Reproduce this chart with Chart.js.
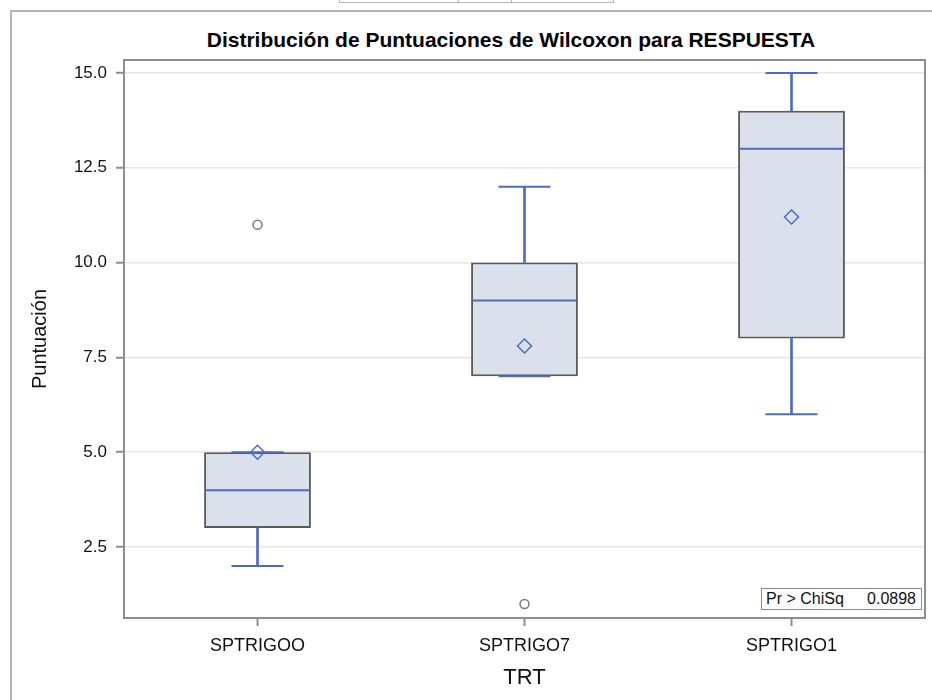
<!DOCTYPE html>
<html>
<head>
<meta charset="utf-8">
<script src="https://cdn.jsdelivr.net/npm/chart.js@4"></script>
<style>
  html, body { margin: 0; padding: 0; background: #fff; overflow: hidden; }
  #wrap { position: relative; width: 932px; height: 700px; }
  #frame { position: absolute; left: 10px; top: 10px; right: 0; bottom: 0;
           border-left: 2px solid #b4b4b4; border-top: 2px solid #b4b4b4; }
  #topbox { position: absolute; left: 339px; top: -2px; width: 273px; height: 3px;
            border: 1px solid #b4b4b4; }
  #topbox span { position: absolute; top: 0; height: 3px; border-left: 1px solid #b4b4b4; }
  #title { position: absolute; left: 0; top: 27px; width: 1022px; text-align: center;
           font: bold 21px "Liberation Sans", Arial, sans-serif; line-height: 26px; color: #000; }
  #inset { position: absolute; left: 761px; top: 588px; width: 159px; height: 20px;
           border: 1px solid #8a8a8a; background: #fff;
           font: 16px "Liberation Sans", Arial, sans-serif; line-height: 20px; color: #111; }
  #inset .k { position: absolute; left: 4px; }
  #inset .v { position: absolute; right: 5px; }
  canvas { position: absolute; left: 0; top: 0; }
</style>
</head>
<body>
<div id="wrap">
  <div id="frame"></div>
  <div id="topbox"><span style="left:118px"></span><span style="left:171px"></span></div>
  <div id="title">Distribución de Puntuaciones de Wilcoxon para RESPUESTA</div>
  <canvas id="chart" width="932" height="700"></canvas>
  <div id="inset"><span class="k">Pr &gt; ChiSq</span><span class="v">0.0898</span></div>
</div>
<script>
// datos
const categories = ["SPTRIGOO", "SPTRIGO7", "SPTRIGO1"];
const q1 = [3, 7, 8];
const median = [4, 9, 13];
const q3 = [5, 10, 14];
const whiskerLow = [2, 7, 6];
const whiskerHigh = [5, 12, 15];
const means = [5, 7.8, 11.2];
const outliers = [11, 1, null];
const yTicks = [2.5, 5, 7.5, 10, 12.5, 15];

const blue = "#4b6cc2";
const axisGray = "#8e8e8e";
const fontFamily = '"Liberation Sans", Arial, sans-serif';

const boxData = categories.map((c, i) => [q1[i], q3[i]]);
const lowWhisker = categories.map((c, i) => whiskerLow[i] < q1[i] ? [whiskerLow[i], q1[i]] : null);
const highWhisker = categories.map((c, i) => whiskerHigh[i] > q3[i] ? [q3[i], whiskerHigh[i]] : null);

// marco del área de trazado
const plotBorder = {
  id: "plotBorder",
  afterDraw(chart) {
    const a = chart.chartArea;
    const ctx = chart.ctx;
    ctx.save();
    ctx.strokeStyle = axisGray;
    ctx.lineWidth = 2;
    ctx.strokeRect(a.left, a.top, a.right - a.left, a.bottom - a.top);
    ctx.restore();
  }
};

function pointSet(data, style, radius, order, extra) {
  return Object.assign({
    type: "line",
    data: data,
    showLine: false,
    pointStyle: style,
    pointRadius: radius,
    pointHoverRadius: radius,
    pointBorderColor: blue,
    pointBackgroundColor: "rgba(0,0,0,0)",
    pointBorderWidth: 2,
    order: order
  }, extra || {});
}

new Chart(document.getElementById("chart"), {
  type: "bar",
  data: {
    labels: categories,
    datasets: [
      {
        label: "caja",
        data: boxData,
        backgroundColor: "#dae0ec",
        borderColor: "#5a5a5a",
        borderWidth: 2,
        borderSkipped: false,
        barPercentage: 0.4,
        categoryPercentage: 1,
        grouped: false,
        order: 6
      },
      {
        label: "bigote inferior",
        data: lowWhisker,
        backgroundColor: blue,
        barThickness: 2,
        grouped: false,
        order: 5
      },
      {
        label: "bigote superior",
        data: highWhisker,
        backgroundColor: blue,
        barThickness: 2,
        grouped: false,
        order: 5
      },
      pointSet(whiskerLow, "line", 26, 4),
      pointSet(whiskerHigh, "line", 26, 4),
      pointSet(median, "line", 52, 3),
      pointSet(means, "rectRot", 7, 2, { pointBorderWidth: 1.5 }),
      pointSet(outliers, "circle", 4.5, 1, {
        pointBorderColor: "#7a7a7a",
        pointBackgroundColor: "#fff",
        pointBorderWidth: 1.5
      })
    ]
  },
  options: {
    responsive: false,
    animation: false,
    layout: { autoPadding: false, padding: { left: 0, right: 7, top: 60, bottom: 0 } },
    plugins: {
      legend: { display: false },
      tooltip: { enabled: false },
      title: { display: false }
    },
    scales: {
      x: {
        offset: true,
        afterFit(scale) {
          scale.height = 82;
          scale.paddingLeft = 0;
          scale.paddingRight = 0;
        },
        border: { color: axisGray, width: 2 },
        grid: {
          offset: false,
          drawOnChartArea: false,
          tickLength: 8,
          tickColor: axisGray,
          tickWidth: 2
        },
        ticks: { color: "#111", padding: 9, font: { family: fontFamily, size: 18 } },
        title: {
          display: true,
          text: "TRT",
          color: "#111",
          padding: { top: 0, bottom: 9 },
          font: { family: fontFamily, size: 22 }
        }
      },
      y: {
        min: 0.63,
        max: 15.34,
        afterFit(scale) {
          scale.width = 124;
          scale.paddingTop = 0;
          scale.paddingBottom = 0;
        },
        afterBuildTicks(scale) { scale.ticks = yTicks.map(v => ({ value: v })); },
        border: { color: axisGray, width: 2 },
        grid: {
          color: "#e6e6e6",
          lineWidth: 1.5,
          tickLength: 8,
          tickColor: axisGray,
          tickWidth: 2
        },
        ticks: {
          color: "#111",
          padding: 9,
          font: { family: fontFamily, size: 17 },
          callback: v => Number(v).toFixed(1)
        },
        title: {
          display: true,
          text: "Puntuación",
          color: "#111",
          padding: { top: 28, bottom: 0 },
          font: { family: fontFamily, size: 20 }
        }
      }
    }
  },
  plugins: [plotBorder]
});
</script>
</body>
</html>
